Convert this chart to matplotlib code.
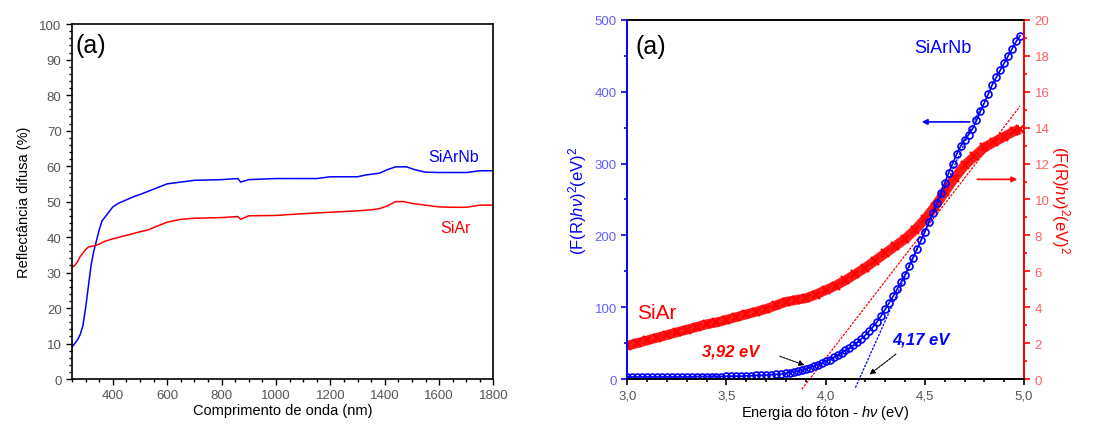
import numpy as np
import matplotlib.pyplot as plt
from matplotlib.ticker import MultipleLocator, FuncFormatter

plt.rcParams['font.family'] = ['Liberation Sans', 'DejaVu Sans']
plt.rcParams['mathtext.fontset'] = 'custom'
plt.rcParams['mathtext.rm'] = 'Liberation Sans'
plt.rcParams['mathtext.it'] = 'Liberation Sans:italic'

# --- reflectance spectra (left panel) ---
wl_nb = [250, 260, 270, 280, 290, 300, 310, 320, 330, 340, 350, 360, 380, 400, 420,
         450, 480, 500, 550, 600, 650, 700, 800, 860, 870, 900, 1000, 1100, 1150,
         1200, 1300, 1330, 1380, 1410, 1440, 1480, 1510, 1550, 1600, 1700, 1750, 1800]
r_nb = [9, 10, 11, 12.5, 15, 20, 26, 32, 36, 39, 42, 44.5, 46.5, 48.5, 49.5,
        50.5, 51.5, 52, 53.5, 55, 55.5, 56, 56.2, 56.5, 55.5, 56.2, 56.5, 56.5, 56.5,
        57, 57, 57.5, 58, 59, 59.8, 59.8, 59, 58.3, 58.2, 58.2, 58.7, 58.7]

wl_ar = [250, 260, 270, 280, 290, 300, 310, 330, 350, 370, 400, 450, 500, 530,
         560, 600, 650, 700, 800, 860, 870, 900, 1000, 1100, 1200, 1300, 1350,
         1380, 1410, 1440, 1470, 1500, 1550, 1600, 1650, 1700, 1750, 1800]
r_ar = [31.5, 32, 33, 34.5, 35.5, 36.5, 37.2, 37.5, 38, 38.8, 39.5, 40.5, 41.5, 42,
        43, 44.2, 45, 45.3, 45.5, 45.8, 45, 46, 46.1, 46.6, 47, 47.4, 47.7,
        48, 48.8, 50, 50, 49.5, 49, 48.5, 48.4, 48.4, 49, 49]

# --- Tauc plots (right panel) ---
e_nb = [3.000, 3.025, 3.050, 3.075, 3.100, 3.125, 3.150, 3.175, 3.200, 3.225,
        3.250, 3.275, 3.300, 3.325, 3.350, 3.375, 3.400, 3.425, 3.450, 3.475,
        3.500, 3.525, 3.550, 3.575, 3.600, 3.625, 3.650, 3.675, 3.700, 3.725,
        3.750, 3.775,
        3.80, 3.82, 3.84, 3.86, 3.88, 3.90, 3.92, 3.94, 3.96, 3.98,
        4.00, 4.02, 4.04, 4.06, 4.08, 4.10, 4.12, 4.14, 4.16, 4.18,
        4.20, 4.22, 4.24, 4.26, 4.28, 4.30, 4.32, 4.34, 4.36, 4.38,
        4.40, 4.42, 4.44, 4.46, 4.48, 4.50, 4.52, 4.54, 4.56, 4.58,
        4.60, 4.62, 4.64, 4.66, 4.68, 4.70, 4.72, 4.74, 4.76, 4.78,
        4.80, 4.82, 4.84, 4.86, 4.88, 4.90, 4.92, 4.94, 4.96, 4.98]
f_nb = [3, 3, 3, 3, 3, 3, 3, 3, 3, 3,
        3, 3, 3, 3, 3.5, 3.5, 3.5, 3.5, 3.5, 3.5,
        4, 4, 4, 4, 4.5, 4.5, 5, 5, 5.5, 6,
        6.5, 7,
        8, 9, 10, 11, 12, 14, 16, 18, 20, 22,
        25, 27, 30, 33, 36, 40, 43, 47, 51, 56,
        61, 67, 73, 80, 88, 97, 106, 115, 125, 135,
        145, 157, 169, 181, 193, 205, 218, 231, 245, 259,
        273, 287, 300, 313, 324, 333, 340, 348, 360, 373,
        385, 397, 410, 420, 430, 440, 450, 460, 470, 478]

e_ar = [3.00, 3.05, 3.10, 3.15, 3.20, 3.25, 3.30, 3.35, 3.40, 3.45, 3.50, 3.55,
        3.60, 3.65, 3.70, 3.75, 3.80, 3.85, 3.90, 3.95, 4.00, 4.05, 4.10, 4.15,
        4.20, 4.25, 4.30, 4.35, 4.40, 4.45, 4.50, 4.55, 4.60, 4.65, 4.70, 4.75,
        4.80, 4.85, 4.90, 4.95, 4.98]
f_ar = [1.85, 2.0, 2.15, 2.3, 2.45, 2.6, 2.75, 2.9, 3.05, 3.15, 3.3, 3.45,
        3.6, 3.75, 3.9, 4.1, 4.3, 4.4, 4.5, 4.7, 4.95, 5.2, 5.5, 5.85,
        6.2, 6.6, 7.0, 7.4, 7.8, 8.3, 8.9, 9.6, 10.4, 11.2, 11.9, 12.4,
        12.9, 13.2, 13.5, 13.8, 13.9]

# linear fits (band-gap extrapolation)
fit_ar_x = [3.88, 4.98]
fit_ar_y = [-0.57, 15.2]
fit_nb_x = [4.15, 4.78]
fit_nb_y = [-12, 378]

gray = '#555555'
blue = '#0000ff'
red = '#ff0000'

fig = plt.figure(figsize=(11.18, 4.27), dpi=100)

# ---------------- left panel ----------------
ax1 = fig.add_axes([0.0644, 0.110, 0.377, 0.831])
ax1.plot(wl_nb, r_nb, color=blue, lw=1.1)
ax1.plot(wl_ar, r_ar, color=red, lw=1.1)
ax1.set_xlim(250, 1800)
ax1.set_ylim(0, 100)
ax1.xaxis.set_major_locator(MultipleLocator(200))
ax1.xaxis.set_minor_locator(MultipleLocator(50))
ax1.yaxis.set_major_locator(MultipleLocator(10))
ax1.yaxis.set_minor_locator(MultipleLocator(2))
ax1.tick_params(which='both', direction='out', top=False, right=False,
                labelsize=9.5, labelcolor=gray, width=1)
ax1.tick_params(which='major', length=4)
ax1.tick_params(which='minor', length=2)
ax1.set_xlabel('Comprimento de onda (nm)', fontsize=10.5, labelpad=1)
ax1.set_ylabel('Reflectância difusa (%)', fontsize=10.5, labelpad=6)
for s in ax1.spines.values():
    s.set_linewidth(1.2)
ax1.text(263, 94, '(a)', fontsize=18, va='center', ha='left')
ax1.text(1653, 62.8, 'SiArNb', color=blue, fontsize=11.5, ha='center', va='center')
ax1.text(1660, 42.8, 'SiAr', color=red, fontsize=11.5, ha='center', va='center')

# ---------------- right panel ----------------
comma = FuncFormatter(lambda v, p: f'{v:.1f}'.replace('.', ','))

ax2 = fig.add_axes([0.561, 0.110, 0.355, 0.841])
ax3 = ax2.twinx()
ax2.set_zorder(ax3.get_zorder() + 1)
ax2.patch.set_visible(False)

ax3.plot(e_ar, f_ar, color=red, lw=7, alpha=0.9, solid_capstyle='butt')
ax3.plot(e_ar, f_ar, ls='none', marker='x', ms=6, mew=1.6, color=red)
ax3.plot(fit_ar_x, fit_ar_y, color=red, lw=0.9, ls=(0, (2, 1)), clip_on=False)
ax3.set_ylim(0, 20)
ax3.yaxis.set_major_locator(MultipleLocator(2))
ax3.yaxis.set_minor_locator(MultipleLocator(1))
ax3.tick_params(axis='y', which='both', direction='out', colors=red,
                labelcolor='#ff6060', labelsize=9.5, width=1.2)
ax3.tick_params(axis='y', which='major', length=4)
ax3.tick_params(axis='y', which='minor', length=2)
ax3.set_ylabel(r'(F(R)$h\nu$)$^2$(eV)$^2$', color=red, fontsize=12,
               rotation=270, labelpad=16)

ax2.plot(e_nb, f_nb, color=blue, lw=1.2)
ax2.plot(e_nb, f_nb, ls='none', marker='o', ms=5, mfc='none', mew=1.2, color=blue)
ax2.plot(fit_nb_x, fit_nb_y, color=blue, lw=0.9, ls=(0, (2, 1)), clip_on=False)
ax2.set_xlim(3.0, 5.0)
ax2.set_ylim(0, 500)
ax2.xaxis.set_major_locator(MultipleLocator(0.5))
ax2.xaxis.set_minor_locator(MultipleLocator(0.1))
ax2.xaxis.set_major_formatter(comma)
ax2.yaxis.set_major_locator(MultipleLocator(100))
ax2.yaxis.set_minor_locator(MultipleLocator(50))
ax2.tick_params(axis='x', which='both', direction='out', labelsize=9.5,
                labelcolor=gray, width=1.2)
ax2.tick_params(axis='y', which='both', direction='out', colors=blue,
                labelcolor='#6060ff', labelsize=9.5, width=1.2)
ax2.tick_params(which='major', length=4)
ax2.tick_params(which='minor', length=2)
ax2.set_xlabel(r'Energia do fóton - $h\nu$ (eV)', fontsize=10.5, labelpad=1)
ax2.set_ylabel(r'(F(R)$h\nu$)$^2$(eV)$^2$', color=blue, fontsize=12, labelpad=4)

ax3.spines['left'].set_color(blue)
ax3.spines['right'].set_color(red)
ax2.spines['left'].set_color(blue)
ax2.spines['right'].set_color(red)
for a in (ax2, ax3):
    for s in a.spines.values():
        s.set_linewidth(1.2)

ax2.text(3.04, 464, '(a)', fontsize=18, va='center', ha='left')
ax2.text(4.59, 462, 'SiArNb', color=blue, fontsize=13, ha='center', va='center')
ax2.text(3.15, 93, 'SiAr', color=red, fontsize=15, ha='center', va='center')
ax2.text(3.52, 39, '3,92 eV', color=red, fontsize=12, fontweight='bold',
         style='italic', ha='center', va='center')
ax2.text(4.48, 56, '4,17 eV', color=blue, fontsize=12, fontweight='bold',
         style='italic', ha='center', va='center')

ax2.annotate('', xy=(3.907, 18), xytext=(3.756, 33),
             arrowprops=dict(arrowstyle='-|>', color='black', lw=0.8,
                             mutation_scale=8, ls=(0, (2, 1))))
ax2.annotate('', xy=(4.21, 4), xytext=(4.365, 37),
             arrowprops=dict(arrowstyle='-|>', color='black', lw=0.8,
                             mutation_scale=8, ls=(0, (2, 1))))
ax2.annotate('', xy=(4.47, 358), xytext=(4.74, 358),
             arrowprops=dict(arrowstyle='-|>', color=blue, lw=1.2,
                             mutation_scale=8))
ax2.annotate('', xy=(4.98, 278), xytext=(4.75, 278),
             arrowprops=dict(arrowstyle='-|>', color=red, lw=1.2,
                             mutation_scale=8))

fig.savefig('out.png', dpi=100)
